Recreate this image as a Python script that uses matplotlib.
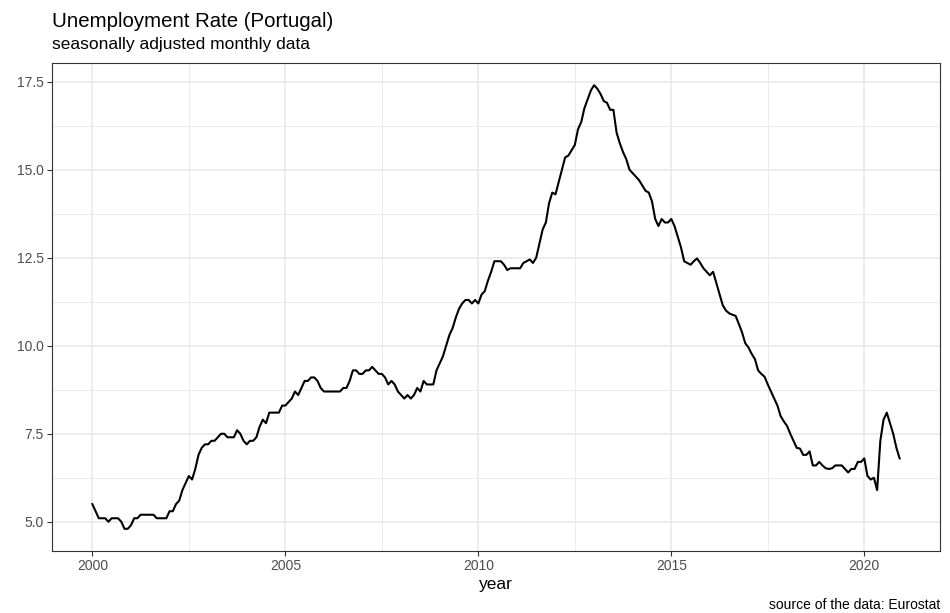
import numpy as np
import matplotlib
matplotlib.use("Agg")
import matplotlib.pyplot as plt

# monthly unemployment rate (%), Jan..Dec
rate_2000 = [5.5, 5.3, 5.1, 5.1, 5.1, 5.0, 5.1, 5.1, 5.1, 5.0, 4.8, 4.8]
rate_2001 = [4.9, 5.1, 5.1, 5.2, 5.2, 5.2, 5.2, 5.2, 5.1, 5.1, 5.1, 5.1]
rate_2002 = [5.3, 5.3, 5.5, 5.6, 5.9, 6.1, 6.3, 6.2, 6.5, 6.9, 7.1, 7.2]
rate_2003 = [7.2, 7.3, 7.3, 7.4, 7.5, 7.5, 7.4, 7.4, 7.4, 7.6, 7.5, 7.3]
rate_2004 = [7.2, 7.3, 7.3, 7.4, 7.7, 7.9, 7.8, 8.1, 8.1, 8.1, 8.1, 8.3]
rate_2005 = [8.3, 8.4, 8.5, 8.7, 8.6, 8.8, 9.0, 9.0, 9.1, 9.1, 9.0, 8.8]
rate_2006 = [8.7, 8.7, 8.7, 8.7, 8.7, 8.7, 8.8, 8.8, 9.0, 9.3, 9.3, 9.2]
rate_2007 = [9.2, 9.3, 9.3, 9.4, 9.3, 9.2, 9.2, 9.1, 8.9, 9.0, 8.9, 8.7]
rate_2008 = [8.6, 8.5, 8.6, 8.5, 8.6, 8.8, 8.7, 9.0, 8.9, 8.9, 8.9, 9.3]
rate_2009 = [9.5, 9.7, 10.0, 10.3, 10.5, 10.8, 11.05, 11.2, 11.3, 11.3, 11.2, 11.3]
rate_2010 = [11.2, 11.45, 11.55, 11.85, 12.1, 12.4, 12.4, 12.4, 12.3, 12.15, 12.2, 12.2]
rate_2011 = [12.2, 12.2, 12.35, 12.4, 12.45, 12.35, 12.5, 12.9, 13.3, 13.5, 14.05, 14.35]
rate_2012 = [14.3, 14.65, 15.0, 15.35, 15.4, 15.55, 15.7, 16.15, 16.35, 16.75, 17.0, 17.25]
rate_2013 = [17.4, 17.3, 17.15, 16.95, 16.9, 16.7, 16.7, 16.05, 15.75, 15.5, 15.3, 15.0]
rate_2014 = [14.9, 14.8, 14.7, 14.55, 14.4, 14.35, 14.1, 13.6, 13.4, 13.6, 13.5, 13.5]
rate_2015 = [13.6, 13.4, 13.1, 12.8, 12.4, 12.35, 12.3, 12.4, 12.48, 12.35, 12.2, 12.1]
rate_2016 = [12.0, 12.1, 11.78, 11.45, 11.15, 11.0, 10.92, 10.88, 10.85, 10.62, 10.38, 10.07]
rate_2017 = [9.95, 9.77, 9.62, 9.3, 9.2, 9.12, 8.9, 8.7, 8.5, 8.3, 8.0, 7.85]
rate_2018 = [7.72, 7.5, 7.3, 7.1, 7.08, 6.9, 6.9, 7.0, 6.6, 6.6, 6.7, 6.6]
rate_2019 = [6.52, 6.5, 6.52, 6.6, 6.6, 6.6, 6.5, 6.4, 6.5, 6.5, 6.7, 6.7]
rate_2020 = [6.8, 6.3, 6.2, 6.25, 5.9, 7.3, 7.9, 8.1, 7.8, 7.5, 7.1, 6.8]

rate = (rate_2000 + rate_2001 + rate_2002 + rate_2003 + rate_2004 + rate_2005
        + rate_2006 + rate_2007 + rate_2008 + rate_2009 + rate_2010 + rate_2011
        + rate_2012 + rate_2013 + rate_2014 + rate_2015 + rate_2016 + rate_2017
        + rate_2018 + rate_2019 + rate_2020)
year = 2000 + np.arange(len(rate)) / 12

x_breaks = [2000, 2005, 2010, 2015, 2020]
y_breaks = [5.0, 7.5, 10.0, 12.5, 15.0, 17.5]

plt.rcParams["font.family"] = ["Liberation Sans", "DejaVu Sans"]

fig = plt.figure(figsize=(9.5, 6.13), dpi=100)
ax = fig.add_axes([52 / 950, 62 / 613, 888 / 950, 488 / 613])

ax.plot(year, rate, color="black", linewidth=1.5, zorder=3)

# ggplot-style expansion (5 %)
xr = year[-1] - year[0]
yr = max(rate) - min(rate)
ax.set_xlim(year[0] - 0.05 * xr, year[-1] + 0.05 * xr)
ax.set_ylim(min(rate) - 0.05 * yr, max(rate) + 0.05 * yr)

ax.set_xticks(x_breaks)
ax.set_xticklabels([str(b) for b in x_breaks])
ax.set_yticks(y_breaks)
ax.set_yticklabels([f"{b:.1f}" for b in y_breaks])
ax.set_xticks([2002.5, 2007.5, 2012.5, 2017.5], minor=True)
ax.set_yticks([6.25, 8.75, 11.25, 13.75, 16.25], minor=True)

ax.grid(which="major", color="#EBEBEB", linewidth=1.3, zorder=0)
ax.grid(which="minor", color="#EBEBEB", linewidth=0.7, zorder=0)
ax.set_axisbelow(True)

for s in ax.spines.values():
    s.set_color("#333333")
    s.set_linewidth(0.8)

ax.tick_params(which="major", length=3.5, width=0.8, color="#333333",
               labelcolor="#4D4D4D", labelsize=10, pad=2.5)
ax.tick_params(which="minor", length=0)

ax.set_xlabel("year", fontsize=12.5, labelpad=3)

fig.text(52 / 950, 1 - 27 / 613, "Unemployment Rate (Portugal)",
         fontsize=14.7, ha="left", va="baseline")
fig.text(52 / 950, 1 - 49 / 613, "seasonally adjusted monthly data",
         fontsize=12.5, ha="left", va="baseline")
fig.text(940 / 950, 1 - 609 / 613, "source of the data: Eurostat",
         fontsize=10, ha="right", va="baseline")

fig.savefig("out.png", dpi=100)
